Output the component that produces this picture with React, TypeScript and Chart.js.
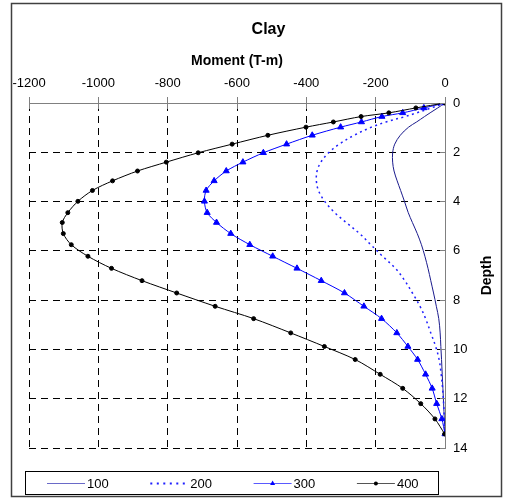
import React, { useEffect, useRef } from "react";
import { Chart, registerables } from "chart.js";

Chart.register(...registerables);

// Depth (shared by all series)
const DEPTH = [0, 0.2, 0.4, 0.55, 0.77, 0.98, 1.31, 1.67, 2.02, 2.4, 2.76, 3.16, 3.55, 3.99, 4.45, 4.85, 5.3, 5.75, 6.22, 6.71, 7.21, 7.71, 8.25, 8.75, 9.33, 9.88, 10.41, 11.01, 11.58, 12.2, 12.82, 13.43];

// Moment (T-m) per series
const M100 = [0, -21, -43, -59, -82, -105, -129, -145, -151, -151, -147, -138, -128, -117, -106, -94, -80, -68, -58, -49, -41, -33, -25, -18, -14, -12, -10, -8, -6, -4, -2, 0];
const M200 = [0, -40, -82, -115, -170, -212, -262, -305, -336, -358, -369, -371, -365, -347, -318, -285, -246, -214, -180, -143, -116, -94, -72, -56, -41, -27, -17, -11, -7, -4, -2, 0];
const M300 = [0, -61, -122, -182, -241, -301, -383, -457, -524, -583, -631, -666, -689, -694, -686, -659, -618, -563, -497, -427, -357, -290, -234, -183, -139, -107, -79, -56, -37, -24, -9, 0];
const M400 = [0, -84, -162, -242, -322, -401, -511, -614, -712, -804, -887, -959, -1017, -1059, -1088, -1104, -1101, -1078, -1030, -962, -874, -774, -663, -552, -445, -348, -259, -187, -122, -70, -29, -1];

const SERIES_LABELS = ["100", "200", "300", "400"];
const TITLE = "Clay";
const X_TITLE = "Moment (T-m)";
const Y_TITLE = "Depth";
const X_MIN = -1200;
const X_MAX = 0;
const X_STEP = 200;
const Y_MIN = 0;
const Y_MAX = 14;
const Y_STEP = 2;

const FONT = "'Liberation Sans', Arial, sans-serif";

const toPoints = (vals: number[]) => vals.map((v, i) => ({ x: v, y: DEPTH[i] }));

const decor = {
  id: "decor",
  afterDraw(chart: any) {
    const { ctx, chartArea: a, scales } = chart;
    const xs = scales.x;
    const ys = scales.y;
    const line = (x1: number, y1: number, x2: number, y2: number) => {
      ctx.beginPath();
      ctx.moveTo(x1, y1);
      ctx.lineTo(x2, y2);
      ctx.stroke();
    };
    ctx.save();
    // tick marks
    ctx.strokeStyle = "#808080";
    ctx.lineWidth = 1;
    ctx.setLineDash([]);
    xs.ticks.forEach((t: any) => {
      const px = Math.floor(xs.getPixelForValue(t.value)) + 0.5;
      line(px, a.top - 6, px, a.top + 6);
    });
    ys.ticks.forEach((t: any) => {
      const py = Math.floor(ys.getPixelForValue(t.value)) + 0.5;
      line(a.right - 5, py, a.right, py);
    });

    // rotated y title (bottom-to-top)
    ctx.save();
    ctx.fillStyle = "#000";
    ctx.font = `bold 14px ${FONT}`;
    ctx.textAlign = "center";
    ctx.textBaseline = "middle";
    ctx.translate(487, (a.top + a.bottom) / 2);
    ctx.rotate(-Math.PI / 2);
    ctx.fillText(Y_TITLE, 0, 0);
    ctx.restore();

    // legend box
    const lgLeft = a.left - 4;
    const lgTop = a.bottom + 23;
    const lgW = 413;
    const lgH = 23;
    ctx.strokeStyle = "#000";
    ctx.lineWidth = 1;
    ctx.strokeRect(Math.floor(lgLeft) + 0.5, Math.floor(lgTop) + 0.5, lgW, lgH);
    const cy = Math.floor(lgTop) + 12;
    chart.data.datasets.forEach((d: any, i: number) => {
      const x0 = lgLeft + 22 + i * 103.3;
      const x1 = x0 + 38;
      ctx.save();
      ctx.strokeStyle = d.legendColor || d.borderColor;
      ctx.lineWidth = d.borderDash ? 2 : 1;
      ctx.setLineDash(d.borderDash ? [2, 4.5] : []);
      line(x0, cy + 0.5, x1, cy + 0.5);
      ctx.restore();
      const mx = (x0 + x1) / 2;
      if (d.pointStyle === "triangle") {
        ctx.fillStyle = d.pointBackgroundColor;
        ctx.beginPath();
        ctx.moveTo(mx, cy - 2.5);
        ctx.lineTo(mx + 2.5, cy + 2);
        ctx.lineTo(mx - 2.5, cy + 2);
        ctx.closePath();
        ctx.fill();
      } else if (d.pointStyle === "circle" && d.pointRadius > 0) {
        ctx.fillStyle = d.pointBackgroundColor;
        ctx.beginPath();
        ctx.arc(mx, cy + 0.5, 2, 0, Math.PI * 2);
        ctx.fill();
      }
      ctx.fillStyle = "#000";
      ctx.font = `13px ${FONT}`;
      ctx.textAlign = "left";
      ctx.textBaseline = "middle";
      ctx.fillText(d.label, x1 + 2, cy + 1);
    });

    // outer border
    ctx.strokeStyle = "#404040";
    ctx.lineWidth = 1.5;
    ctx.strokeRect(11.5, 3.5, 490, 493);
    ctx.restore();
  },
};

export default function App() {
  const ref = useRef<HTMLCanvasElement>(null);

  useEffect(() => {
    const gridColor = (c: any) => (c.tick && c.tick.value === 0 ? "rgba(0,0,0,0)" : "#000");
    const chart = new Chart(ref.current as HTMLCanvasElement, {
      type: "scatter",
      data: {
        datasets: [
          {
            label: SERIES_LABELS[0],
            data: toPoints(M100),
            showLine: true,
            borderColor: "#1a1a8c",
            backgroundColor: "#1a1a8c",
            legendColor: "#6a6ac8",
            borderWidth: 1,
            pointRadius: 0,
            pointStyle: "circle",
            pointBackgroundColor: "#1a1a8c",
            tension: 0.35,
            order: 3,
          },
          {
            label: SERIES_LABELS[1],
            data: toPoints(M200),
            showLine: true,
            borderColor: "#1f1fff",
            backgroundColor: "#1f1fff",
            borderWidth: 1.5,
            borderDash: [2, 3.5],
            pointRadius: 0,
            pointStyle: "circle",
            pointBackgroundColor: "#1f1fff",
            tension: 0.35,
            order: 2,
          },
          {
            label: SERIES_LABELS[2],
            data: toPoints(M300),
            showLine: true,
            borderColor: "#0000ff",
            backgroundColor: "#0000ff",
            legendColor: "#5a5aff",
            borderWidth: 1,
            pointRadius: 3.5,
            pointStyle: "triangle",
            pointBackgroundColor: "#0000ff",
            pointBorderColor: "#0000ff",
            pointBorderWidth: 1,
            tension: 0.3,
            order: 1,
          },
          {
            label: SERIES_LABELS[3],
            data: toPoints(M400),
            showLine: true,
            borderColor: "#000000",
            backgroundColor: "#000000",
            legendColor: "#555555",
            borderWidth: 1,
            pointRadius: 2,
            pointStyle: "circle",
            pointBackgroundColor: "#000000",
            pointBorderColor: "#000000",
            pointBorderWidth: 1,
            tension: 0.3,
            order: 0,
          },
        ] as any,
      },
      options: {
        animation: false,
        responsive: false,
        devicePixelRatio: 1,
        events: [],
        layout: { padding: { left: 29, right: 0, top: 0, bottom: 51 } },
        plugins: {
          legend: { display: false },
          tooltip: { enabled: false },
          title: {
            display: true,
            text: TITLE,
            color: "#000",
            font: { family: FONT, size: 16, weight: "bold" },
            padding: { top: 20, bottom: 10 },
          },
        },
        scales: {
          x: {
            type: "linear",
            position: "top",
            min: X_MIN,
            max: X_MAX,
            ticks: {
              stepSize: X_STEP,
              padding: 12,
              color: "#000",
              font: { family: FONT, size: 13 },
              maxRotation: 0,
              autoSkip: false,
              callback: (v: any) => String(v),
            },
            grid: { color: gridColor, lineWidth: 1, drawTicks: false },
            border: { display: true, color: "#808080", width: 1, dash: [7, 5] },
            title: {
              display: true,
              text: X_TITLE,
              color: "#000",
              font: { family: FONT, size: 14, weight: "bold" },
              padding: { top: 3.4, bottom: 0 },
            },
            afterFit: (s: any) => {
              s.height = 53.8;
            },
          },
          y: {
            type: "linear",
            position: "right",
            reverse: true,
            min: Y_MIN,
            max: Y_MAX,
            ticks: {
              stepSize: Y_STEP,
              padding: 8,
              color: "#000",
              font: { family: FONT, size: 13 },
              callback: (v: any) => String(v),
            },
            grid: { color: gridColor, lineWidth: 1, drawTicks: false },
            border: { display: true, color: "#808080", width: 1, dash: [7, 5] },
            afterFit: (s: any) => {
              s.width = 63;
            },
          },
        },
      } as any,
      plugins: [decor],
    });
    return () => chart.destroy();
  }, []);

  return (
    <div style={{ position: "absolute", left: 0, top: 0, width: 508, height: 499, background: "#fff" }}>
      <canvas ref={ref} width={508} height={499} style={{ display: "block", width: 508, height: 499 }} />
    </div>
  );
}
